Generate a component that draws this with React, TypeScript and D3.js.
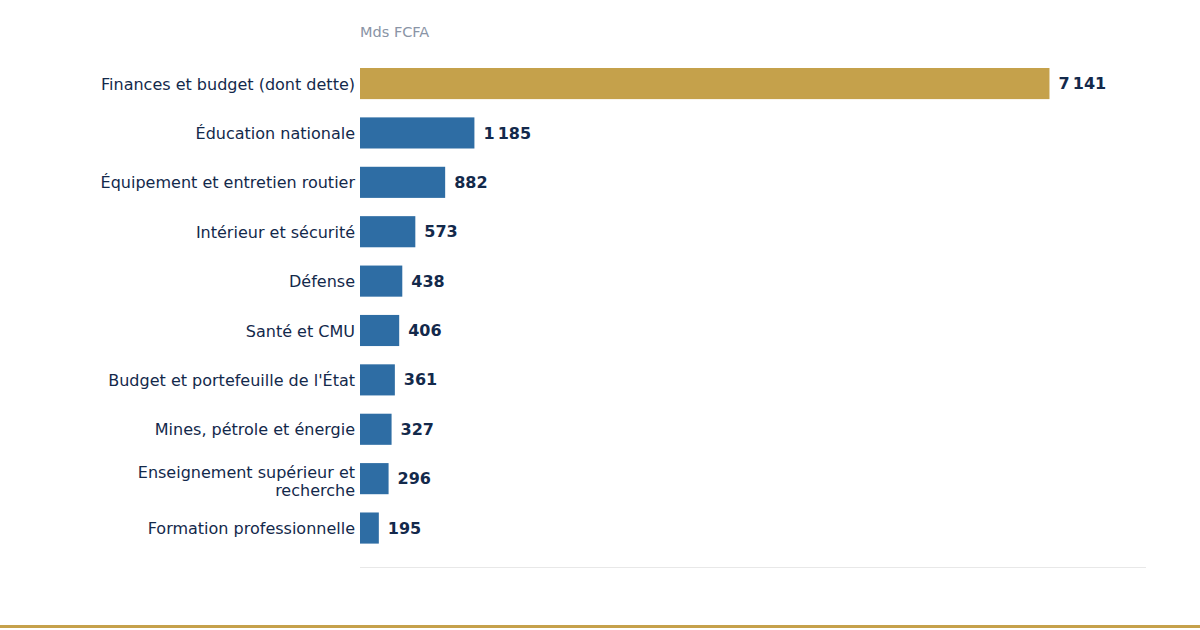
import React from "react";
import * as d3 from "d3";

const categories: string[][] = [
  ["Finances et budget (dont dette)"],
  ["Éducation nationale"],
  ["Équipement et entretien routier"],
  ["Intérieur et sécurité"],
  ["Défense"],
  ["Santé et CMU"],
  ["Budget et portefeuille de l'État"],
  ["Mines, pétrole et énergie"],
  ["Enseignement supérieur et", "recherche"],
  ["Formation professionnelle"],
];
const values: number[] = [7141, 1185, 882, 573, 438, 406, 361, 327, 296, 195];
const highlighted: boolean[] = [true, false, false, false, false, false, false, false, false, false];
const unitLabel = "Mds FCFA";

const W = 1200;
const H = 630;
const FONT = "'DejaVu Sans', sans-serif";
const NAVY = "#13294b";
const GOLD = "#c5a14b";
const BLUE = "#2e6da4";

const locale = d3.formatLocale({ decimal: ",", thousands: "\u202f", grouping: [3], currency: ["", ""] });
const fmt = locale.format(",d");

export default function App() {
  const x = d3.scaleLinear().domain([0, d3.max(values)! * 1.14]).range([360, 1146]);
  const idx = values.map((_, i) => String(i));
  const y = d3.scaleBand<string>().domain(idx).range([68, 543.6]).paddingInner(0.37).paddingOuter(0);
  const bw = y.bandwidth();

  return (
    <svg width={W} height={H} style={{ position: "absolute", top: 0, left: 0, background: "#fff" }} fontFamily={FONT}>
      <rect x={0} y={0} width={W} height={H} fill="#fff" />
      <text x={360} y={36.5} fontSize={14.5} fill="#8a94a6">{unitLabel}</text>
      {values.map((v, i) => {
        const yy = y(String(i))!;
        const cy = yy + bw / 2;
        const lines = categories[i];
        const lh = 18.5;
        const shift = lines.length > 1 ? 2.5 : 0.5;
        return (
          <g key={i}>
            <rect x={x(0)} y={yy} width={x(v) - x(0)} height={bw} fill={highlighted[i] ? GOLD : BLUE} />
            <text x={x(v) + 9} y={cy} dy="0.35em" fontSize={16} fontWeight="bold" fill={NAVY}>{fmt(v)}</text>
            <text x={355} y={cy + shift - ((lines.length - 1) * lh) / 2} fontSize={16} fill={NAVY} textAnchor="end">
              {lines.map((l, j) => (
                <tspan key={j} x={355} dy={j === 0 ? "0.35em" : lh}>{l}</tspan>
              ))}
            </text>
          </g>
        );
      })}
      <line x1={x(0)} x2={x.range()[1]} y1={567.5} y2={567.5} stroke="#e8e8e8" strokeWidth={1} />
      <rect x={0} y={625} width={W} height={3} fill={GOLD} />
    </svg>
  );
}
